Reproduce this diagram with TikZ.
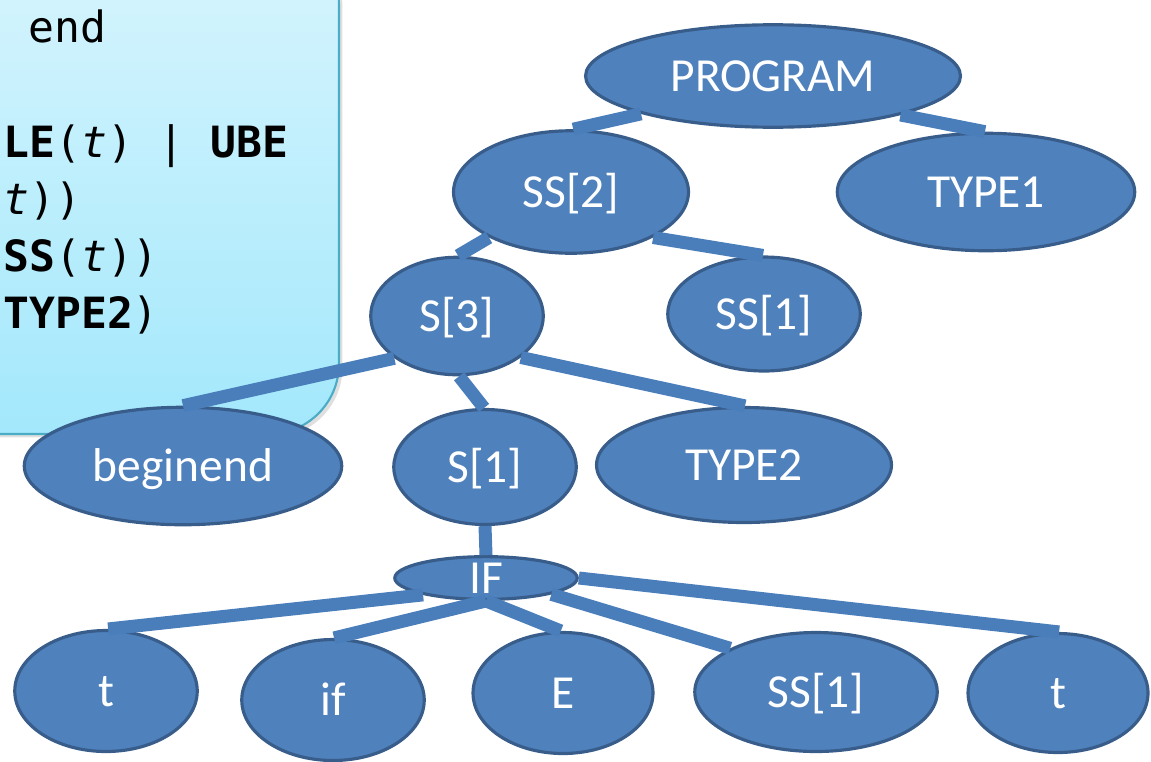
\documentclass[tikz,border=0pt]{standalone}
\usepackage{fontspec}
\setmainfont{Carlito}
\setmonofont{DejaVu Sans Mono}
\usetikzlibrary{shapes.geometric, shadows}
\definecolor{nodeblue}{HTML}{4F81BD}
\definecolor{nodeedge}{HTML}{385D8A}
\definecolor{barblue}{HTML}{4A7EBB}
\definecolor{boxtop}{HTML}{D8F5FD}
\definecolor{boxbot}{HTML}{A3E8FC}
\definecolor{boxedge}{HTML}{4BACC6}
\tikzset{
  tnode/.style={ellipse, draw=nodeedge, fill=nodeblue, line width=1.8pt,
                text=white, font=\fontsize{27}{30}\selectfont,
                inner sep=0pt, text height=17.2pt, text depth=0pt},
  bar/.style={draw=barblue, line width=0.26cm},
  defbox/.style={rectangle, draw=boxedge, line width=1.2pt, rounded corners=1.4cm,
                 top color=boxtop, bottom color=boxbot,
                 drop shadow={opacity=0.25, shadow xshift=2pt, shadow yshift=-2pt}},
  rule/.style={anchor=base west, inner sep=0pt,
               font=\ttfamily\fontsize{24.5}{30}\selectfont},
}
\begin{document}
\begin{tikzpicture}[x=0.02cm, y=-0.02cm]

  \useasboundingbox (0,0) rectangle (1151,761);

  % grammar box, cut at the left edge
  \begin{scope}
    \clip (0,0) rectangle (1151,761);
    \node[defbox, anchor=south east, minimum width=10cm, minimum height=10cm] (defs) at (340,435) {};
  \end{scope}
  \node[rule] (r1) at (28,42) {end};
  \node[rule] (r2) at (3,157) {\textbf{LE}(\textit{t}) | \textbf{UBE}};
  \node[rule] (r3) at (3,214) {\textit{t}))};
  \node[rule] (r4) at (3,271) {\textbf{SS}(\textit{t}))};
  \node[rule] (r5) at (3,328) {\textbf{TYPE2})};

  % tree
  \node[tnode, minimum width=7.5cm,  minimum height=2.05cm] (prog)  at (773,76)  {PROGRAM};
  \node[tnode, minimum width=4.7cm,  minimum height=2.45cm] (ss2)   at (571,192) {SS[2]};
  \node[tnode, minimum width=5.95cm, minimum height=2.35cm] (type1) at (986,192) {TYPE1};
  \node[tnode, minimum width=3.45cm, minimum height=2.35cm] (s3)    at (457,316) {S[3]};
  \node[tnode, minimum width=3.85cm, minimum height=2.28cm] (ss1a)  at (764,314) {SS[1]};
  \node[tnode, minimum width=6.35cm, minimum height=2.35cm] (begend) at (183,466) {beginend};
  \node[tnode, minimum width=3.65cm, minimum height=2.3cm]  (s1)    at (485,467) {S[1]};
  \node[tnode, minimum width=5.9cm,  minimum height=2.3cm]  (type2) at (744,465) {TYPE2};
  \node[tnode, minimum width=3.65cm, minimum height=0.84cm] (ifst)  at (486,578) {IF};
  \node[tnode, minimum width=3.65cm, minimum height=2.42cm] (tl)    at (106,691) {t};
  \node[tnode, minimum width=3.65cm, minimum height=2.42cm] (ifkw)  at (333,700) {if};
  \node[tnode, minimum width=3.6cm,  minimum height=2.42cm] (expr)  at (563,693) {E};
  \node[tnode, minimum width=4.85cm, minimum height=2.38cm] (ss1b)  at (816,692) {SS[1]};
  \node[tnode, minimum width=3.6cm,  minimum height=2.38cm] (tr)    at (1058,693) {t};

  \draw[bar] (prog.-164) -- (ss2.88);
  \draw[bar] (prog.-17) -- (type1.91);
  \draw[bar] (ss2.-151) -- (s3.89);
  \draw[bar] (ss2.-29) -- (ss1a.91);
  \draw[bar] (s3.-146) -- (begend.90);
  \draw[bar] (s3.-88) -- (s1.91);
  \draw[bar] (s3.-33) -- (type2.89);
  \draw[bar] (s1.south) -- (ifst.north);
  \draw[bar] (ifst.-165) -- (tl.88);
  \draw[bar] (ifst.south) -- (ifkw.89);
  \draw[bar] (ifst.south) -- (expr.92);
  \draw[bar] (ifst.-14) -- (ss1b.153);
  \draw[bar] (ifst.east) -- (tr.89);

\end{tikzpicture}
\end{document}
